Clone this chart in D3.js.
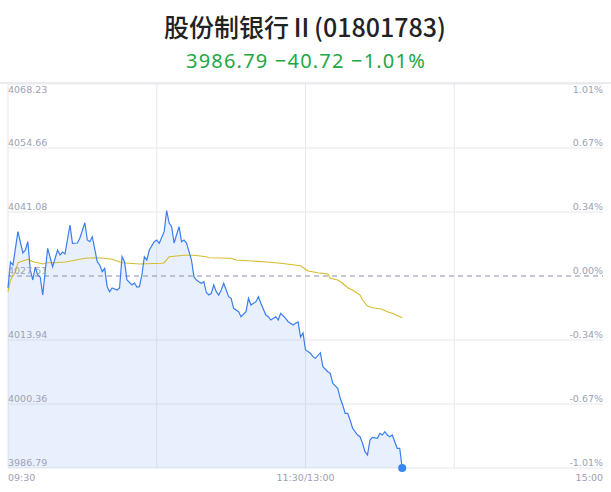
<!DOCTYPE html>
<html lang="zh">
<head>
<meta charset="UTF-8">
<title>股份制银行II</title>
<style>
  body { margin: 0; background: #fff; }
  svg text { font-family: "Noto Sans CJK SC", "Noto Sans", sans-serif; }
  svg text.axis { font-family: "DejaVu Sans", sans-serif; }
</style>
</head>
<body>
<div id="chart"></div>
<script src="https://d3js.org/d3.v7.min.js"></script>
<script>
// 昨收与区间
const prevClose = 4027.51;
const yTicks = [4068.23, 4054.66, 4041.08, 4027.51, 4013.94, 4000.36, 3986.79];
const pctTicks = ["1.01%", "0.67%", "0.34%", "0.00%", "-0.34%", "-0.67%", "-1.01%"];
const timeLabels = ["09:30", "11:30/13:00", "15:00"];

// 分钟序号 (0..240) 与价格
const priceMin = [0, 1, 2, 4, 6, 7, 8, 9, 10, 11, 12, 13, 14, 16, 18, 20, 21, 22, 23, 25, 26, 28, 29, 31, 32, 33, 34, 36, 37, 38, 39, 40, 41, 42, 44, 45, 46, 47, 48, 50, 51, 52, 53, 54, 55, 56, 57, 59, 60, 61, 63, 64, 65, 66, 67, 69, 70, 71, 72, 74, 75, 76, 77, 78, 79, 80, 81, 82, 83, 84, 85, 86, 87, 89, 90, 91, 93, 94, 96, 97, 98, 100, 101, 102, 104, 105, 106, 108, 109, 110, 112, 113, 115, 116, 117, 118, 119, 120, 122, 123, 124, 126, 127, 129, 130, 131, 133, 134, 135, 136, 137, 138, 139, 141, 142, 143, 144, 145, 146, 147, 149, 150, 151, 152, 153, 154, 155, 156, 157, 158, 159];
const prices = [4024.97, 4030.48, 4029.84, 4036.91, 4032.39, 4033.02, 4034.78, 4028.78, 4026.66, 4029.42, 4027.72, 4027.30, 4023.48, 4033.38, 4029.48, 4033.02, 4031.96, 4032.60, 4032.20, 4038.33, 4034.44, 4034.51, 4035.57, 4038.81, 4035.14, 4034.78, 4035.84, 4030.54, 4029.84, 4028.42, 4029.14, 4025.24, 4024.18, 4024.97, 4024.54, 4024.97, 4031.60, 4030.54, 4026.66, 4025.60, 4026.03, 4025.18, 4025.24, 4027.72, 4031.60, 4030.90, 4033.02, 4034.78, 4035.14, 4034.44, 4036.91, 4041.36, 4038.75, 4037.97, 4034.51, 4037.97, 4034.78, 4035.14, 4034.51, 4030.90, 4027.36, 4026.66, 4026.30, 4025.96, 4026.30, 4024.00, 4023.48, 4023.84, 4025.60, 4024.18, 4023.48, 4024.54, 4025.96, 4023.12, 4022.78, 4020.66, 4019.94, 4018.88, 4019.94, 4022.78, 4021.36, 4022.06, 4023.12, 4021.72, 4019.24, 4018.88, 4018.18, 4018.88, 4018.18, 4019.60, 4018.54, 4017.82, 4017.12, 4017.48, 4017.75, 4014.57, 4015.42, 4011.82, 4011.12, 4010.40, 4010.06, 4011.24, 4008.27, 4007.21, 4006.87, 4004.75, 4003.69, 4001.57, 4000.15, 3998.39, 3998.39, 3996.97, 3995.21, 3993.79, 3993.43, 3992.03, 3990.25, 3989.55, 3992.73, 3993.30, 3993.09, 3994.15, 3993.79, 3994.49, 3993.79, 3993.43, 3993.79, 3992.37, 3990.97, 3990.97, 3986.79];

// 均价线
const avgMin = [0, 1, 3, 4, 6, 8, 10, 12, 14, 16, 19, 23, 26, 31, 35, 39, 42, 46, 53, 62, 63, 65, 71, 75, 80, 81, 90, 92, 103, 110, 118, 120, 121, 125, 129, 130, 133, 135, 137, 139, 142, 143, 145, 147, 151, 153, 155, 159];
const avgPrices = [4024.18, 4026.66, 4028.42, 4030.33, 4030.69, 4031.05, 4030.54, 4030.33, 4030.05, 4030.33, 4030.33, 4030.48, 4030.75, 4031.26, 4031.39, 4031.26, 4031.05, 4030.33, 4030.05, 4030.20, 4030.33, 4031.60, 4031.90, 4031.90, 4031.60, 4031.39, 4031.26, 4030.90, 4030.54, 4030.20, 4029.69, 4028.93, 4028.57, 4028.21, 4027.93, 4027.02, 4026.66, 4025.96, 4025.03, 4024.54, 4023.48, 4022.42, 4021.15, 4020.79, 4020.45, 4019.94, 4019.60, 4018.67];

const width = 611, height = 492;
const plotLeft = 8, plotRight = 603, plotTop = 84, plotBottom = 468;

const svg = d3.select('#chart').append('svg')
    .attr('width', width)
    .attr('height', height);

const x = d3.scaleLinear().domain([0, 240]).range([plotLeft, plotRight]);
const y = d3.scaleLinear().domain([yTicks[yTicks.length - 1], yTicks[0]]).range([plotBottom, plotTop]);

// 标题
svg.append('text')
    .attr('x', 305).attr('y', 37)
    .attr('text-anchor', 'middle')
    .attr('font-size', 25)
    .attr('font-weight', 500)
    .attr('fill', '#222')
    .text('股份制银行Ⅱ(01801783)');

svg.append('text')
    .attr('x', 306).attr('y', 68)
    .attr('text-anchor', 'middle')
    .attr('font-size', 20)
    .attr('letter-spacing', 1.2)
    .attr('fill', '#22a846')
    .style('font-family', '"Noto Sans", sans-serif')
    .text('3986.79 −40.72 −1.01%');

// 顶部分隔线
svg.append('line')
    .attr('x1', 0).attr('x2', width)
    .attr('y1', 83).attr('y2', 83)
    .attr('stroke', '#e6e6ea').attr('stroke-width', 1.5);

// 横向网格
svg.append('g').selectAll('line')
    .data(yTicks.filter(d => d !== prevClose))
    .join('line')
    .attr('x1', plotLeft).attr('x2', plotRight)
    .attr('y1', d => y(d)).attr('y2', d => y(d))
    .attr('stroke', '#e8e8ee');

// 纵向网格
svg.append('g').selectAll('line')
    .data([0, 60, 120, 180])
    .join('line')
    .attr('x1', d => x(d)).attr('x2', d => x(d))
    .attr('y1', plotTop).attr('y2', plotBottom)
    .attr('stroke', '#e8e8ee');

// 面积与线
const area = d3.area()
    .x((d, i) => x(priceMin[i]))
    .y0(plotBottom)
    .y1(d => y(d));

const line = d3.line()
    .x((d, i) => x(priceMin[i]))
    .y(d => y(d));

svg.append('path')
    .attr('d', area(prices))
    .attr('fill', '#3a78ee')
    .attr('fill-opacity', 0.11);

// 昨收虚线
svg.append('line')
    .attr('x1', plotLeft).attr('x2', plotRight)
    .attr('y1', y(prevClose)).attr('y2', y(prevClose))
    .attr('stroke', '#8a91a8')
    .attr('stroke-dasharray', '5,4');

const avgLine = d3.line()
    .x((d, i) => x(avgMin[i]))
    .y(d => y(d));

svg.append('path')
    .attr('d', avgLine(avgPrices))
    .attr('fill', 'none')
    .attr('stroke', '#d6bb2c')
    .attr('stroke-width', 1.1);

svg.append('path')
    .attr('d', line(prices))
    .attr('fill', 'none')
    .attr('stroke', '#3a7ef0')
    .attr('stroke-width', 1.2);

svg.append('circle')
    .attr('cx', x(priceMin[priceMin.length - 1]))
    .attr('cy', y(prices[prices.length - 1]))
    .attr('r', 4)
    .attr('fill', '#3a86f5');

// 纵轴标签
const labelY = (d, i) => i === 0 ? y(d) + 9 : y(d) - 2;

svg.append('g').selectAll('text')
    .data(yTicks)
    .join('text')
    .attr('class', 'axis')
    .attr('x', plotLeft)
    .attr('y', labelY)
    .attr('font-size', 9.5)
    .attr('fill', '#9ca1b2')
    .text(d => d.toFixed(2));

svg.append('g').selectAll('text')
    .data(yTicks)
    .join('text')
    .attr('class', 'axis')
    .attr('x', plotRight)
    .attr('y', labelY)
    .attr('text-anchor', 'end')
    .attr('font-size', 9.5)
    .attr('fill', '#9ca1b2')
    .text((d, i) => pctTicks[i]);

// 时间标签
svg.append('g').selectAll('text')
    .data(timeLabels)
    .join('text')
    .attr('class', 'axis')
    .attr('x', (d, i) => x(i * 120))
    .attr('y', 481)
    .attr('text-anchor', (d, i) => ['start', 'middle', 'end'][i])
    .attr('font-size', 9.5)
    .attr('fill', '#9ca1b2')
    .text(d => d);
</script>
</body>
</html>
